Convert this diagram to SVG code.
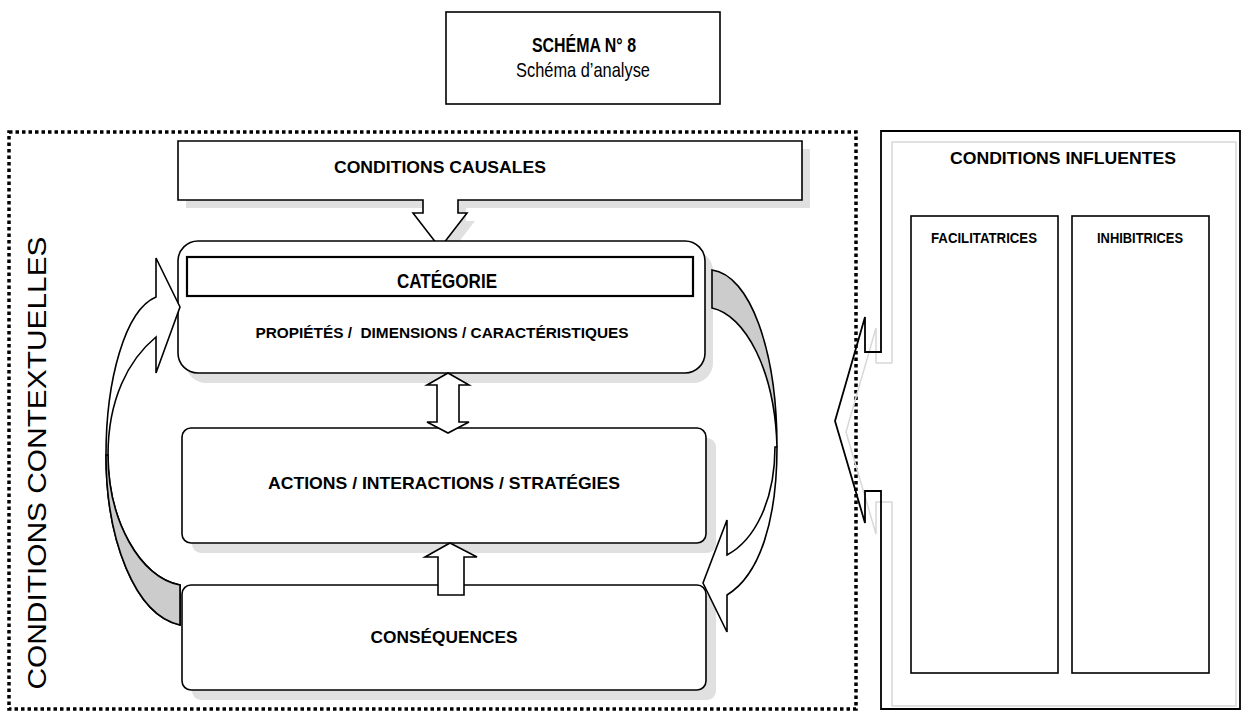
<svg xmlns="http://www.w3.org/2000/svg" width="1247" height="715" viewBox="0 0 1247 715">
<style>
text{font-family:'Liberation Sans Narrow','Arial Narrow','Liberation Sans',sans-serif;fill:#000;text-anchor:middle}
.b{font-weight:bold}
.box{fill:#fff;stroke:#000;stroke-width:1.6}
.shd{fill:#e0e0e0;stroke:none}
.arr{fill:#fff;stroke:#000;stroke-width:1.6;stroke-linejoin:miter}
.back{fill:#cccccc;stroke:#000;stroke-width:1.6}
</style>
<rect width="1247" height="715" fill="#fff"/>

<g id="title">
<rect x="446" y="12" width="274" height="92" class="box"/>
<text x="584" y="52" class="b" font-size="21" textLength="104" lengthAdjust="spacingAndGlyphs">SCHÉMA N° 8</text>
<text x="583" y="77" font-size="21" textLength="134" lengthAdjust="spacingAndGlyphs">Schéma d’analyse</text>
</g>

<g id="contextuelles">
<rect x="9" y="132" width="847" height="577" fill="none" stroke="#000" stroke-width="3.5" stroke-dasharray="3.5 3"/>
<text transform="translate(46,463) rotate(-90)" font-size="25" textLength="453" lengthAdjust="spacingAndGlyphs">CONDITIONS CONTEXTUELLES</text>
</g>

<g id="causales">
<path class="shd" d="M186,149 H810 V208 H466 V221 H475 L448,256 L421,221 H431 V208 H186 Z"/>
<path class="box" d="M178,141 H802 V200 H458 V213 H467 L440,248 L413,213 H423 V200 H178 Z"/>
<text x="440" y="173" class="b" font-size="17" textLength="212" lengthAdjust="spacingAndGlyphs">CONDITIONS CAUSALES</text>
</g>

<g id="categorie">
<rect x="186" y="251" width="527" height="132" rx="20" class="shd"/>
<rect x="178" y="241" width="527" height="132" rx="20" class="box"/>
<rect x="187" y="257" width="506" height="39" fill="#fff" stroke="#000" stroke-width="2.2"/>
<text x="447" y="288" class="b" font-size="21" textLength="100" lengthAdjust="spacingAndGlyphs">CATÉGORIE</text>
<text x="442" y="338" class="b" font-size="15" textLength="373" lengthAdjust="spacingAndGlyphs" xml:space="preserve">PROPIÉTÉS /  DIMENSIONS / CARACTÉRISTIQUES</text>
</g>

<g id="actions">
<rect x="192" y="438" width="524" height="115" rx="9" class="shd"/>
<rect x="182" y="428" width="524" height="115" rx="9" class="box"/>
<text x="444" y="489" class="b" font-size="17" textLength="352" lengthAdjust="spacingAndGlyphs">ACTIONS / INTERACTIONS / STRATÉGIES</text>
</g>

<g id="consequences">
<rect x="192" y="595" width="524" height="105" rx="9" class="shd"/>
<rect x="182" y="585" width="524" height="105" rx="9" class="box"/>
<text x="444" y="643" class="b" font-size="17" textLength="147" lengthAdjust="spacingAndGlyphs">CONSÉQUENCES</text>
</g>

<g id="influentes">
<path d="M892,142 H1236 V706 H892 V502 H876 V534 L846,432 L876,328 V363 H892 Z" fill="none" stroke="#d8d8d8" stroke-width="1.5"/>
<path d="M881,131 H1240 V709 H881 V491 H865 V523 L835,421 L865,317 V352 H881 Z" fill="none" stroke="#000" stroke-width="1.8"/>
<text x="1063" y="164" class="b" font-size="17" textLength="226" lengthAdjust="spacingAndGlyphs">CONDITIONS INFLUENTES</text>
</g>

<g id="facilitatrices">
<rect x="911" y="216" width="147" height="457" class="box"/>
<text x="984" y="243" class="b" font-size="14" textLength="106" lengthAdjust="spacingAndGlyphs">FACILITATRICES</text>
</g>

<g id="inhibitrices">
<rect x="1072" y="216" width="137" height="457" class="box"/>
<text x="1140" y="243" class="b" font-size="14" textLength="86" lengthAdjust="spacingAndGlyphs">INHIBITRICES</text>
</g>

<g id="connectors">
<path class="arr" d="M448,373 L469,385 H459 V422 H469 L448,433 L427,422 H437 V385 H427 Z"/>
<path class="arr" d="M450,543 L477,557 H464 V595 H438 V557 H425 Z"/>
<path class="arr" d="M156,297 V258 L180,307 L156,373 V337 C128,360 108,400 108,455 C108,520 140,578 180,585 V625 C135,615 106,540 106,455 C106,380 125,310 156,297 Z"/>
<path class="back" d="M108,455 C108,520 140,578 180,585 V625 C135,615 106,540 106,455 Z"/>
<path class="back" d="M712,270 C750,275 777,350 777,447 C775,370 745,315 712,308 Z"/>
<path class="arr" d="M775,447 C775,500 755,540 727,555 V520 L703,583 L727,632 V595 C760,575 777,520 777,447 Z"/>
</g>
</svg>
